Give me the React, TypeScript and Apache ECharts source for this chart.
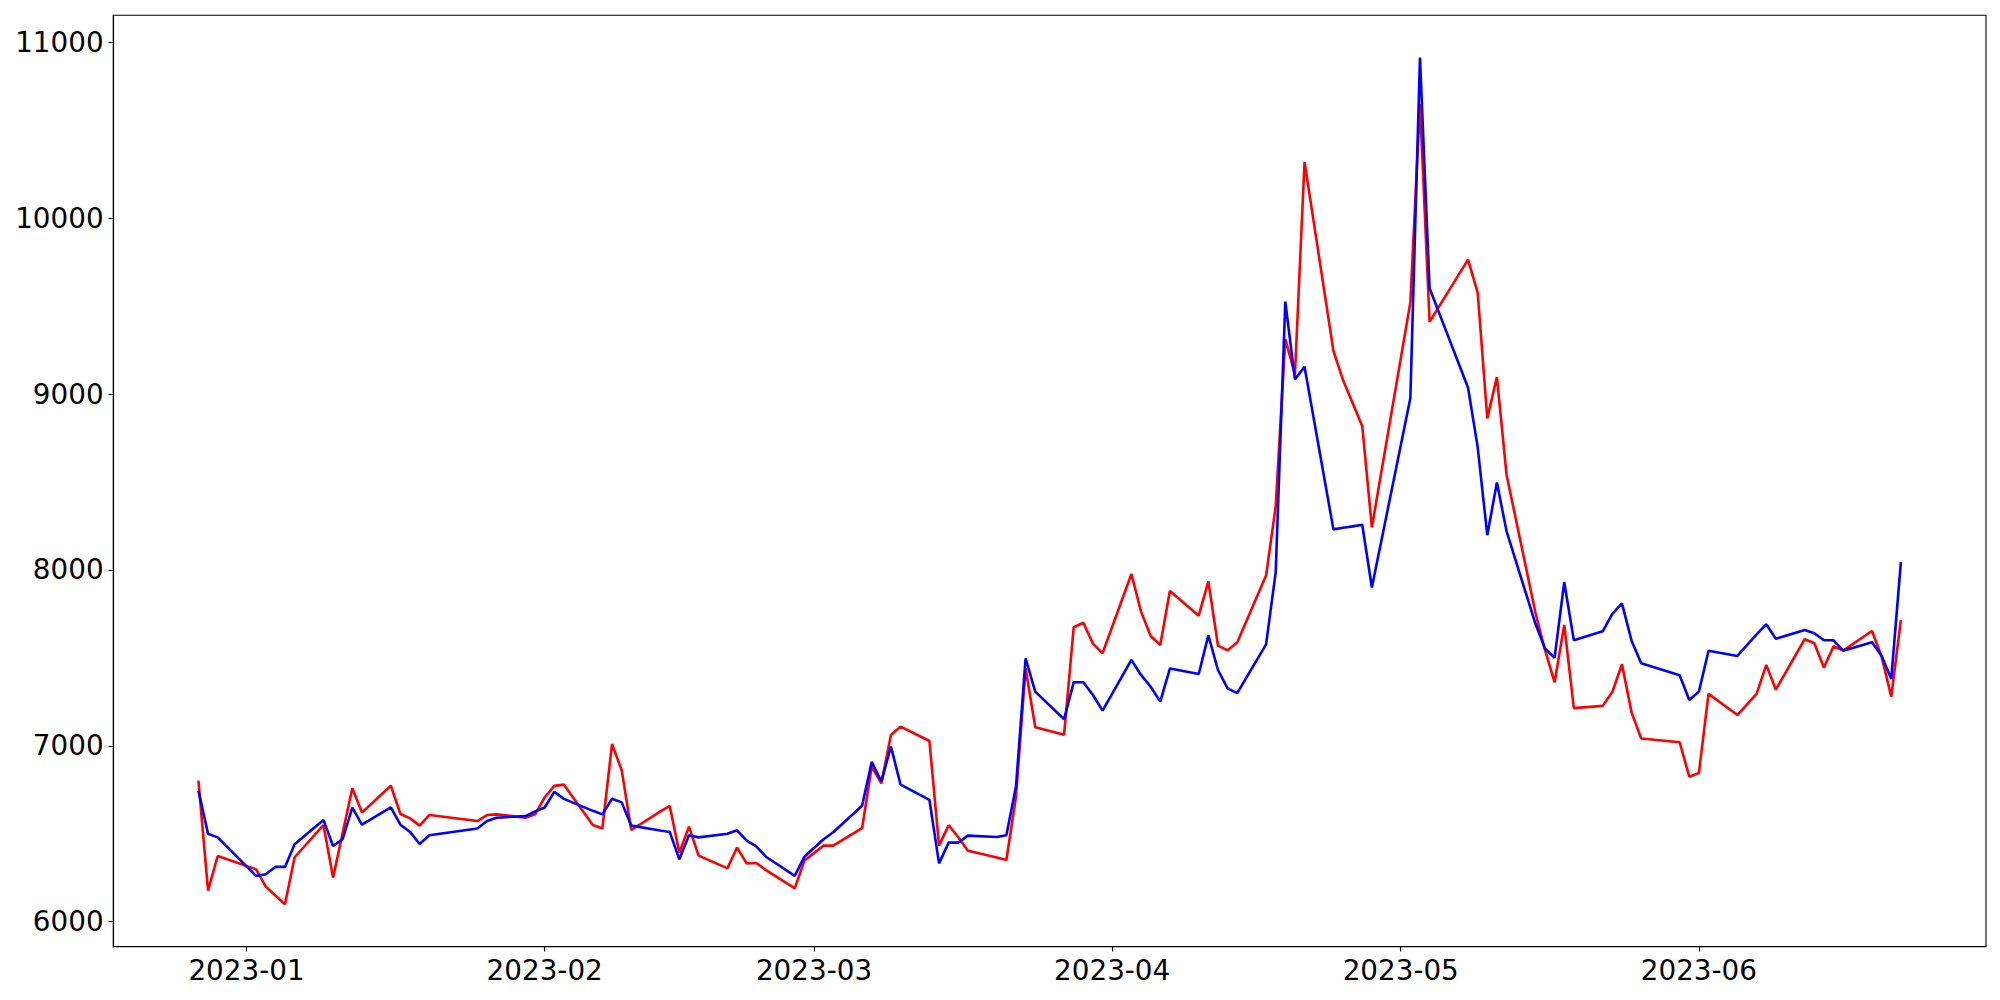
import React, { useEffect, useRef } from "react";
import * as echarts from "echarts";

const dates: string[] = [
  "2022-12-27", "2022-12-28", "2022-12-29",
  "2023-01-02", "2023-01-03", "2023-01-04", "2023-01-05", "2023-01-06",
  "2023-01-09", "2023-01-10", "2023-01-11", "2023-01-12", "2023-01-13",
  "2023-01-16", "2023-01-17", "2023-01-18", "2023-01-19", "2023-01-20",
  "2023-01-25", "2023-01-26", "2023-01-27",
  "2023-01-30", "2023-01-31", "2023-02-01", "2023-02-02", "2023-02-03",
  "2023-02-06", "2023-02-07", "2023-02-08", "2023-02-09", "2023-02-10",
  "2023-02-13", "2023-02-14", "2023-02-15", "2023-02-16", "2023-02-17",
  "2023-02-20", "2023-02-21", "2023-02-22", "2023-02-23", "2023-02-24",
  "2023-02-27", "2023-02-28", "2023-03-02", "2023-03-03",
  "2023-03-06", "2023-03-07", "2023-03-08", "2023-03-09", "2023-03-10",
  "2023-03-13", "2023-03-14", "2023-03-15", "2023-03-16", "2023-03-17",
  "2023-03-20", "2023-03-21", "2023-03-22", "2023-03-23", "2023-03-24",
  "2023-03-27", "2023-03-28", "2023-03-29", "2023-03-30", "2023-03-31",
  "2023-04-03", "2023-04-04", "2023-04-05", "2023-04-06", "2023-04-07",
  "2023-04-10", "2023-04-11", "2023-04-12", "2023-04-13", "2023-04-14",
  "2023-04-17", "2023-04-18", "2023-04-19", "2023-04-20", "2023-04-21",
  "2023-04-24", "2023-04-25", "2023-04-26", "2023-04-27", "2023-04-28",
  "2023-05-02", "2023-05-03", "2023-05-04",
  "2023-05-08", "2023-05-09", "2023-05-10", "2023-05-11", "2023-05-12",
  "2023-05-15", "2023-05-16", "2023-05-17", "2023-05-18", "2023-05-19",
  "2023-05-22", "2023-05-23", "2023-05-24", "2023-05-25", "2023-05-26",
  "2023-05-30", "2023-05-31", "2023-06-01", "2023-06-02",
  "2023-06-05", "2023-06-07", "2023-06-08", "2023-06-09",
  "2023-06-12", "2023-06-13", "2023-06-14", "2023-06-15", "2023-06-16",
  "2023-06-19", "2023-06-20", "2023-06-21", "2023-06-22",
];

const redValues: number[] = [
  6802, 6176, 6373,
  6297, 6199, 6148, 6098, 6366,
  6549, 6250, 6505, 6758, 6620,
  6773, 6612, 6587, 6546, 6606,
  6572, 6606, 6610,
  6591, 6610, 6706, 6772, 6779,
  6549, 6530, 7010, 6862, 6521,
  6626, 6658, 6392, 6540, 6375,
  6303, 6421, 6331, 6333, 6293,
  6189, 6347, 6432, 6432,
  6531, 6881, 6786, 7061, 7109,
  7027, 6432, 6548, 6480, 6403,
  6364, 6350, 6711, 7441, 7105,
  7063, 7674, 7700, 7581, 7526,
  7977, 7763, 7624, 7573, 7880,
  7740, 7935, 7570, 7543, 7587,
  7968, 8361, 9313, 9112, 10321,
  9247, 9080, 8950, 8818, 8242,
  9521, 10650, 9411,
  9765, 9578, 8862, 9097, 8542,
  7758, 7545, 7361, 7687, 7214,
  7227, 7306, 7464, 7190, 7041,
  7020, 6824, 6845, 7295,
  7175, 7295, 7460, 7319,
  7606, 7583, 7444, 7566, 7541,
  7653, 7507, 7279, 7715,
];

const blueValues: number[] = [
  6745, 6500, 6479,
  6259, 6269, 6311, 6311, 6440,
  6578, 6430, 6470, 6648, 6551,
  6650, 6551, 6510, 6441, 6491,
  6529, 6572, 6591,
  6600, 6626, 6649, 6738, 6698,
  6630, 6610, 6699, 6678, 6546,
  6518, 6510, 6354, 6491, 6479,
  6500, 6519, 6460, 6428, 6369,
  6260, 6369, 6468, 6508,
  6659, 6908, 6798, 6995, 6779,
  6692, 6331, 6449, 6449, 6489,
  6481, 6491, 6768, 7497, 7308,
  7151, 7361, 7361, 7289, 7200,
  7488, 7403, 7336, 7251, 7439,
  7408, 7628, 7431, 7327, 7299,
  7577, 7986, 9526, 9084, 9156,
  8231, 8240, 8248, 8257, 7900,
  8977, 10914, 9602,
  9036, 8699, 8198, 8497, 8221,
  7695, 7553, 7501, 7930, 7600,
  7651, 7750, 7810, 7598, 7469,
  7401, 7260, 7308, 7540,
  7511, 7634, 7691, 7609,
  7659, 7640, 7600, 7600, 7541,
  7589, 7511, 7380, 8044,
];

const DAY = 86400000;

export default function App() {
  const ref = useRef<HTMLDivElement>(null);

  useEffect(() => {
    document.body.style.margin = "0";
    if (!ref.current) return;
    const chart = echarts.init(ref.current, undefined, { renderer: "svg" });
    const first = new Date(2022, 11, 27).getTime();
    const last = new Date(2023, 5, 22).getTime();
    const pad = (last - first) * 0.05;
    const allVals = redValues.concat(blueValues);
    const vmin = Math.min(...allVals);
    const vmax = Math.max(...allVals);
    const vpad = (vmax - vmin) * 0.05;
    const font = "DejaVu Sans";

    chart.setOption({
      animation: false,
      backgroundColor: "#ffffff",
      grid: {
        left: 113.3,
        right: 14,
        top: 15.3,
        bottom: 53.3,
        show: true,
        borderColor: "#000000",
        borderWidth: 1.1,
        backgroundColor: "transparent",
        outerBoundsMode: "none",
        containLabel: false,
      },
      xAxis: {
        type: "time",
        min: first - pad,
        max: last + pad,
        minInterval: 28 * DAY,
        splitLine: { show: false },
        axisLine: { show: true, lineStyle: { color: "#000", width: 1.1 } },
        axisTick: { show: true, length: 4.86, lineStyle: { color: "#000", width: 1.1 } },
        axisLabel: {
          formatter: "{yyyy}-{MM}",
          fontSize: 27.8,
          fontFamily: font,
          color: "#000",
          margin: 9.7,
          showMinLabel: false,
          showMaxLabel: false,
          fontWeight: "normal",
        },
      },
      yAxis: {
        type: "value",
        min: vmin - vpad,
        max: vmax + vpad,
        splitNumber: 5,
        splitLine: { show: false },
        axisLine: { show: true, lineStyle: { color: "#000", width: 1.1 } },
        axisTick: { show: true, length: 4.86, lineStyle: { color: "#000", width: 1.1 } },
        axisLabel: {
          fontSize: 27.8,
          fontFamily: font,
          color: "#000",
          margin: 9.7,
          showMinLabel: false,
          showMaxLabel: false,
          formatter: (v: number) => String(Math.round(v)),
        },
      },
      series: [
        {
          name: "red",
          type: "line",
          data: dates.map((d, i) => [d, redValues[i]]),
          showSymbol: false,
          symbol: "none",
          lineStyle: { color: "#ff0000", width: 2.6 },
          itemStyle: { color: "#ff0000" },
          z: 2,
        },
        {
          name: "blue",
          type: "line",
          data: dates.map((d, i) => [d, blueValues[i]]),
          showSymbol: false,
          symbol: "none",
          lineStyle: { color: "#0000ff", width: 2.6 },
          itemStyle: { color: "#0000ff" },
          z: 3,
        },
      ],
    });

    return () => {
      chart.dispose();
    };
  }, []);

  return <div ref={ref} style={{ width: 2000, height: 1000 }} />;
}
